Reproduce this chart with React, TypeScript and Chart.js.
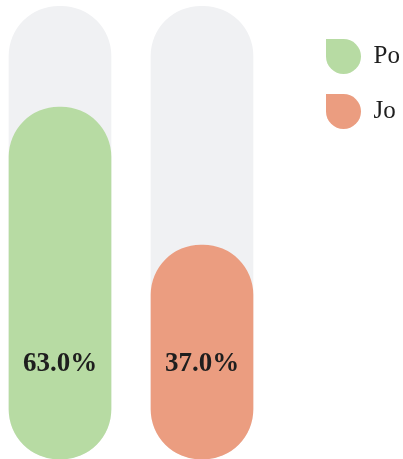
import React, { useEffect, useRef } from "react";
import { Chart, registerables } from "chart.js";

Chart.register(...registerables);

const categories = ["Po", "Jo"];
const seriesLabels = ["Po", "Jo"];
const poValues = [63, null];
const joValues = [null, 37];
const trackValues = [82, 82];
const valueLabels = ["63.0%", "37.0%"];
const axisMin = -3.3;
const axisMax = 79.6;

const GREEN = "#b7dba3";
const ORANGE = "#eb9d80";
const TRACK = "#f0f1f3";

const labelPlugin = {
  id: "valueLabels",
  afterDatasetsDraw(chart: any) {
    const ctx = chart.ctx;
    const { bottom } = chart.chartArea;
    ctx.save();
    ctx.font = "bold 27px 'Liberation Serif', serif";
    ctx.fillStyle = "#1e1e1e";
    ctx.textAlign = "center";
    ctx.textBaseline = "alphabetic";
    [0, 1].forEach((dsIndex) => {
      const meta = chart.getDatasetMeta(dsIndex);
      meta.data.forEach((bar: any, i: number) => {
        const v = chart.data.datasets[dsIndex].data[i];
        if (v === null || v === undefined) return;
        ctx.fillText(valueLabels[i], bar.x, bottom - 88);
      });
    });
    ctx.restore();
  },
};

export default function App() {
  const ref = useRef<HTMLCanvasElement | null>(null);
  useEffect(() => {
    if (!ref.current) return;
    const common = {
      borderRadius: 50,
      borderSkipped: false,
      borderWidth: 0,
      base: axisMin,
      clip: false as any,
      barThickness: 102,
      grouped: false,
    };
    const chart = new Chart(ref.current, {
      type: "bar",
      data: {
        labels: categories,
        datasets: [
          { label: seriesLabels[0], data: poValues, backgroundColor: GREEN, ...common },
          { label: seriesLabels[1], data: joValues, backgroundColor: ORANGE, ...common },
          { label: "track", data: trackValues, backgroundColor: TRACK, ...common },
        ] as any,
      },
      options: {
        animation: false,
        responsive: true,
        maintainAspectRatio: false,
        layout: { padding: { left: 0, right: 0, top: 19, bottom: 0 } },
        scales: {
          x: { display: false, offset: true },
          y: {
            position: "right",
            display: true,
            min: axisMin,
            max: axisMax,
            ticks: { display: false },
            grid: { display: false },
            border: { display: false },
            afterFit: (scale: any) => {
              scale.width = 33;
            },
          },
        },
        plugins: {
          tooltip: { enabled: false },
          legend: {
            position: "right",
            align: "start",
            maxWidth: 97,
            labels: {
              boxWidth: 35,
              boxHeight: 35,
              padding: 20,
              useBorderRadius: true,
              borderRadius: { topLeft: 0, topRight: 17.5, bottomRight: 17.5, bottomLeft: 17.5 } as any,
              color: "#1e1e1e",
              font: { family: "'Liberation Serif', serif", size: 25 },
              filter: (item: any) => item.text !== "track",
            },
          },
        },
      },
      plugins: [labelPlugin],
    });
    return () => chart.destroy();
  }, []);
  return (
    <div style={{ position: "absolute", left: -11, top: 0, width: 414, height: 459, overflow: "hidden" }}>
      <canvas ref={ref} />
    </div>
  );
}
